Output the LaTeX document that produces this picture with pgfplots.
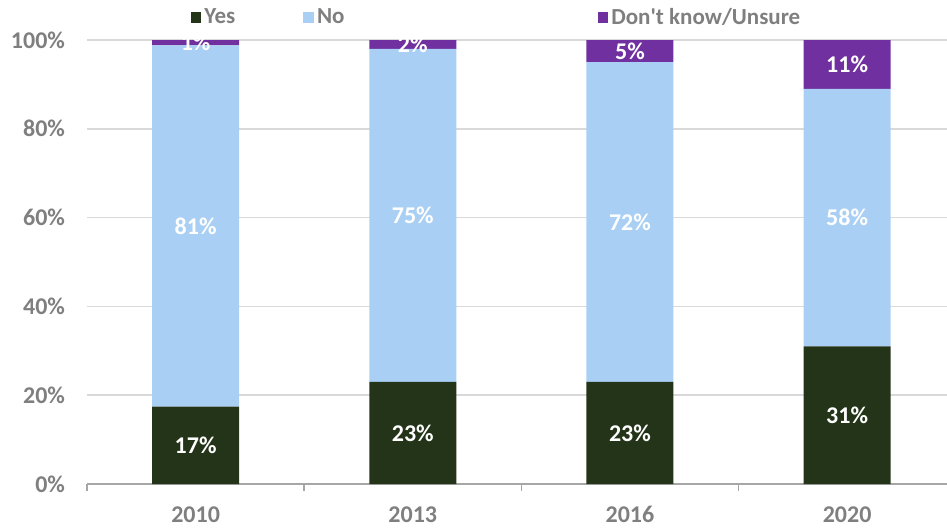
\documentclass[border=0pt]{standalone}
\usepackage{fontspec}
\setmainfont{Carlito}
\usepackage{pgfplots}
\usepackage{pgfplotstable}
\pgfplotsset{compat=1.18}

\definecolor{yescol}{HTML}{243419}
\definecolor{nocol}{HTML}{A9D0F4}
\definecolor{dkcol}{HTML}{7030A0}
\definecolor{txtgray}{HTML}{7F7F7F}
\definecolor{gridgray}{HTML}{D9D9D9}
\definecolor{axisgray}{HTML}{A6A6A6}

% share of answers per survey year (percent)
\pgfplotstableread{
x yes no dk
0 17.4 81.4 1.2
1 23 75 2
2 23 72 5
3 31 58 11
}\survey

\pgfplotsset{
  base/.style={
    width=430pt, height=222pt, scale only axis,
    xmin=-0.5, xmax=3.46, ymin=0, ymax=100,
  },
  lbl/.style={
    only marks, mark=none,
    point meta=explicit,
    nodes near coords={\pgfmathprintnumber[assume math mode=true,fixed,precision=0]{\pgfplotspointmeta}\%},
    every node near coord/.append style={anchor=center, text=white,
      font=\bfseries\fontsize{12}{14}\selectfont},
  },
}

\begin{document}
\begin{tikzpicture}
\begin{axis}[base,
  ybar stacked, bar width=43.5pt,
  legend image code/.code={\fill[#1] (0pt,-2.7pt) rectangle (5.4pt,2.7pt);},
  ymajorgrids, grid style={gridgray, line width=0.8pt},
  axis x line*=bottom, axis y line*=left,
  y axis line style={draw=none},
  x axis line style={draw=axisgray, line width=0.8pt, -},
  ytick={0,20,...,100}, yticklabels={0\%,20\%,40\%,60\%,80\%,100\%},
  xtick={0,1,2,3}, xticklabels={2010,2013,2016,2020},
  major tick length=0pt,
  extra x ticks={-0.5,0.5,1.5,2.5}, extra x tick labels={},
  extra x tick style={major tick length=3.5pt, tick align=outside,
    tick style={draw=axisgray, line width=0.8pt}},
  ticklabel style={font=\bfseries\fontsize{12}{14}\selectfont, text=txtgray},
  yticklabel style={xshift=-7.5pt},
  xticklabel style={anchor=base, yshift=-19pt},
  legend columns=3,
  legend style={draw=none, fill=none, inner sep=0pt,
    at={(rel axis cs:0.12,1.05)}, anchor=west,
    font=\bfseries\fontsize{11.5}{13}\selectfont, text=txtgray,
    nodes={inner sep=1.5pt},
    /tikz/column 2/.style={column sep=32.5pt},
    /tikz/column 4/.style={column sep=125pt}},
]
\addplot[fill=yescol, draw=none] table[x=x, y=yes]{\survey};
\addlegendentry{Yes}
\addplot[fill=nocol, draw=none] table[x=x, y=no]{\survey};
\addlegendentry{No}
\addplot[fill=dkcol, draw=none] table[x=x, y=dk]{\survey};
\addlegendentry{Don\textquotesingle t know/Unsure}
\end{axis}
\begin{axis}[base, hide axis]
\addplot[lbl] table[x=x, y expr=\thisrow{yes}/2, meta=yes]{\survey};
\addplot[lbl] table[x=x, y expr=\thisrow{yes}+\thisrow{no}/2, meta=no]{\survey};
\addplot[lbl] table[x=x, y expr=\thisrow{yes}+\thisrow{no}+\thisrow{dk}/2, meta=dk]{\survey};
\end{axis}
\pgfresetboundingbox
\path[use as bounding box] (-43.5pt,-23.5pt) rectangle (430pt,242pt);
\end{tikzpicture}
\end{document}
